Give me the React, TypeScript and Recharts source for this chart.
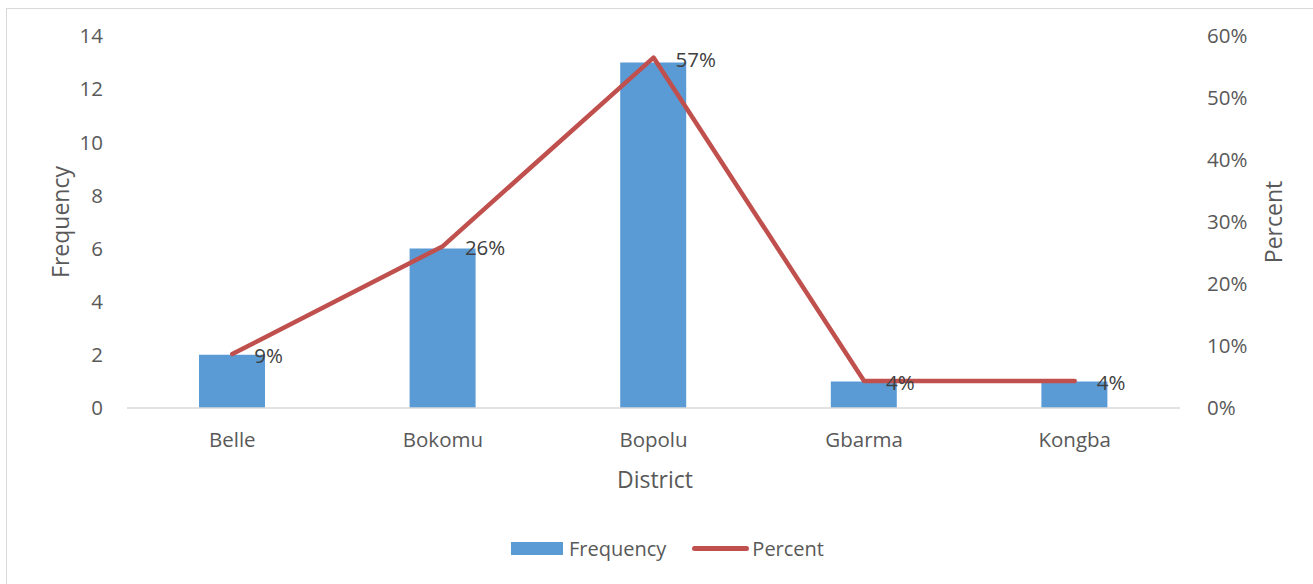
import React from "react";
import {
  ComposedChart,
  Bar,
  Line,
  XAxis,
  YAxis,
  Legend,
  LabelList,
} from "recharts";

const districts = ["Belle", "Bokomu", "Bopolu", "Gbarma", "Kongba"];
const frequency = [2, 6, 13, 1, 1];
const percent = [0.087, 0.261, 0.5652, 0.0435, 0.0435];
const freqTicks = [0, 2, 4, 6, 8, 10, 12, 14];
const pctTicks = [0, 0.1, 0.2, 0.3, 0.4, 0.5, 0.6];

const data = districts.map((name, i) => ({
  name,
  Frequency: frequency[i],
  Percent: percent[i],
}));

const FONT = "'Open Sans', sans-serif";
const BLUE = "#5b9bd5";
const RED = "#c0504d";
const TICK = { fill: "#595959", fontSize: 20.5, fontFamily: FONT };

const pct = (v: number) => `${Math.round(v * 100)}%`;

// axis title placed relative to the axis box, optionally rotated
const AxisTitle = (props: any) => {
  const { viewBox, title, offX = 0, offY = 0, rot = 0 } = props;
  const x = viewBox.x + offX;
  const y = viewBox.y + offY;
  return (
    <text
      x={x}
      y={y}
      fill="#595959"
      fontSize={23}
      fontFamily={FONT}
      textAnchor="middle"
      dominantBaseline="central"
      transform={rot ? `rotate(${rot} ${x} ${y})` : undefined}
    >
      {title}
    </text>
  );
};

const PointLabel = (props: any) => {
  const { x, y, value } = props;
  return (
    <text
      x={x + 22}
      y={y + 1}
      fill="#404040"
      fontSize={20.5}
      fontFamily={FONT}
      dominantBaseline="central"
    >
      {pct(value)}
    </text>
  );
};

const LegendBox = () => (
  <div
    style={{
      display: "flex",
      justifyContent: "center",
      alignItems: "center",
      paddingLeft: 22,
      fontFamily: FONT,
      fontSize: 20,
      color: "#595959",
    }}
  >
    <span style={{ width: 52, height: 13, background: BLUE, marginRight: 6 }} />
    <span style={{ marginRight: 26 }}>Frequency</span>
    <span
      style={{
        width: 57,
        height: 5,
        borderRadius: 3,
        background: RED,
        marginRight: 3,
      }}
    />
    <span>Percent</span>
  </div>
);

export default function App() {
  return (
    <div style={{ position: "absolute", left: 0, top: 0, width: 1313, height: 584, background: "#fff" }}>
      <div
        style={{
          position: "absolute",
          left: 6,
          top: 8,
          width: 1330,
          height: 600,
          border: "1px solid #d9d9d9",
        }}
      />
      <div style={{ position: "absolute", left: 0, top: 0 }}>
        <ComposedChart
          width={1313}
          height={584}
          data={data}
          margin={{ top: 36, right: 0, bottom: 76, left: 0 }}
        >
          <XAxis
            dataKey="name"
            height={100}
            tick={TICK}
            tickLine={false}
            tickSize={0}
            tickMargin={24}
            axisLine={{ stroke: "#d9d9d9", strokeWidth: 1.5 }}
            label={<AxisTitle title="District" offX={528} offY={71} />}
          />
          <YAxis
            yAxisId="left"
            width={127}
            domain={[0, 14]}
            ticks={freqTicks}
            interval={0}
            tick={TICK}
            tickLine={false}
            tickSize={0}
            tickMargin={24}
            axisLine={false}
            label={<AxisTitle title="Frequency" offX={60} offY={186} rot={-90} />}
          />
          <YAxis
            yAxisId="right"
            orientation="right"
            width={133}
            domain={[0, 0.6]}
            ticks={pctTicks}
            interval={0}
            tickFormatter={pct}
            tick={TICK}
            tickLine={false}
            tickSize={0}
            tickMargin={27}
            axisLine={false}
            label={<AxisTitle title="Percent" offX={93} offY={186} rot={-90} />}
          />
          <Legend
            verticalAlign="middle"
            align="center"
            layout="horizontal"
            wrapperStyle={{ top: 535, left: 0, width: 1313 }}
            content={<LegendBox />}
          />
          <Bar
            yAxisId="left"
            dataKey="Frequency"
            fill={BLUE}
            barSize={66}
            isAnimationActive={false}
          />
          <Line
            yAxisId="right"
            dataKey="Percent"
            stroke={RED}
            strokeWidth={4.5}
            strokeLinecap="round"
            strokeLinejoin="round"
            dot={false}
            activeDot={false}
            isAnimationActive={false}
          >
            <LabelList dataKey="Percent" content={<PointLabel />} />
          </Line>
        </ComposedChart>
      </div>
    </div>
  );
}
